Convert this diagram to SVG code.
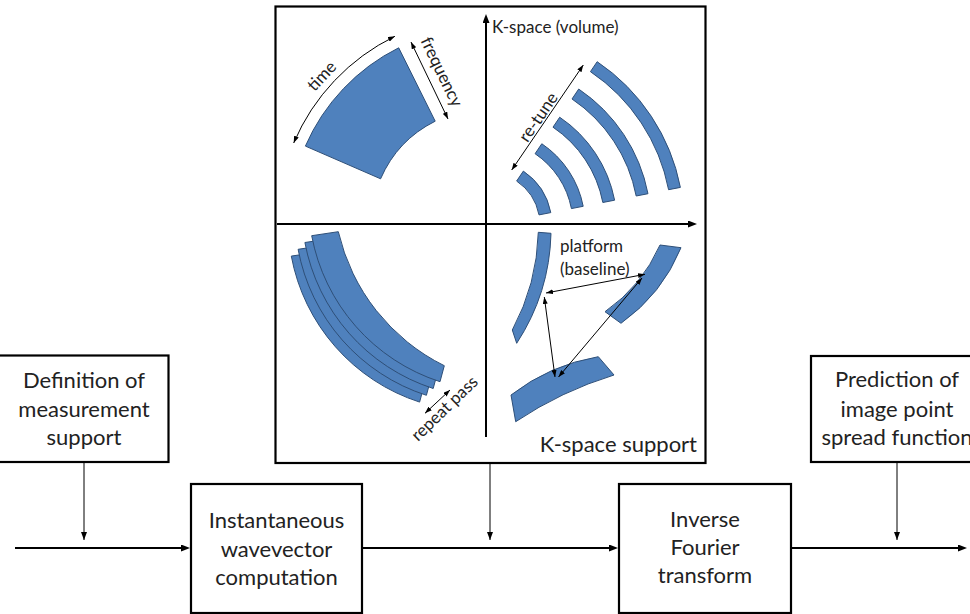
<svg xmlns="http://www.w3.org/2000/svg" width="970" height="614" viewBox="0 0 970 614">
<style>
  .box { fill: #ffffff; stroke: #000000; stroke-width: 2.2; }
  .lbl { font-family: Lato, "Open Sans", "Liberation Sans", sans-serif; font-size: 22px; fill: #222222; text-anchor: middle; }
  .sm { font-family: Lato, "Open Sans", "Liberation Sans", sans-serif; font-size: 17px; fill: #222222; }
  .blue { fill: #4f81bd; stroke: #2e4f78; stroke-width: 1; }
  .thin { fill: none; stroke: #000000; stroke-width: 1; }
  .thick { fill: none; stroke: #000000; stroke-width: 2; }
</style>
<defs>
  <marker id="ah" viewBox="0 0 8 6" refX="8" refY="3" markerWidth="8" markerHeight="6" markerUnits="userSpaceOnUse" orient="auto-start-reverse">
    <path d="M0,0 L8,3 L0,6 z" fill="#000000"/>
  </marker>
  <marker id="as" viewBox="0 0 7 5" refX="7" refY="2.5" markerWidth="7" markerHeight="5" markerUnits="userSpaceOnUse" orient="auto-start-reverse">
    <path d="M0,0 L7,2.5 L0,5 z" fill="#000000"/>
  </marker>
  <marker id="ak" viewBox="0 0 9 7" refX="6" refY="3.5" markerWidth="9" markerHeight="7" markerUnits="userSpaceOnUse" orient="auto">
    <path d="M0,0 L9,3.5 L0,7 z" fill="#000000"/>
  </marker>
</defs>

<g id="kspace-panel">
  <rect class="box" x="275.5" y="6.5" width="430" height="456.5" stroke-width="2.6"/>
  <!-- axes -->
  <line class="thick" x1="486" y1="437" x2="486" y2="17" stroke-width="1.6" marker-end="url(#ak)"/>
  <line class="thick" x1="277" y1="224" x2="694" y2="224" stroke-width="1.6" marker-end="url(#ak)"/>
  <text class="sm" x="492" y="33" font-size="16">K-space (volume)</text>
  <text class="lbl" x="697" y="452" font-size="20" style="text-anchor:end">K-space support</text>

  <!-- top-left: single sector -->
  <path class="blue" d="M305.4,146.1 A198,198 0 0 1 398.7,47.8 L435.2,121.2 A116,116 0 0 0 380.6,178.8 Z"/>
  <path class="thin" d="M293.7,143 A210,210 0 0 1 394.9,36.3" marker-start="url(#as)" marker-end="url(#as)"/>
  <text class="sm" x="326" y="80" text-anchor="middle" transform="rotate(-47 326 80)">time</text>
  <line class="thin" x1="411" y1="42" x2="448" y2="119" marker-start="url(#as)" marker-end="url(#as)"/>
  <text class="sm" x="436.5" y="74.4" text-anchor="middle" transform="rotate(64.3 436.5 74.4)">frequency</text>

  <!-- top-right: re-tune bands -->
  <path class="blue" d="M523.35,171.11 A65,65 0 0 1 550.8,212.6 L539.02,214.89 A53,53 0 0 0 516.64,181.06 Z"/>
  <path class="blue" d="M541.8,143.76 A98,98 0 0 1 583.2,206.3 L571.42,208.59 A86,86 0 0 0 535.09,153.71 Z"/>
  <path class="blue" d="M559.7,117.23 A130,130 0 0 1 614.61,200.2 L602.83,202.49 A118,118 0 0 0 552.99,127.18 Z"/>
  <path class="blue" d="M578.71,89.04 A164,164 0 0 1 647.98,193.71 L636.2,196 A152,152 0 0 0 572,98.99 Z"/>
  <path class="blue" d="M597.16,61.69 A197,197 0 0 1 680.38,187.41 L668.6,189.7 A185,185 0 0 0 590.45,71.63 Z"/>
  <line class="thin" x1="511.7" y1="170" x2="583.3" y2="65" marker-start="url(#as)" marker-end="url(#as)"/>
  <text class="sm" x="543.1" y="120.4" text-anchor="middle" transform="rotate(-55.7 543.1 120.4)">re-tune</text>

  <!-- bottom-left: repeat pass stack -->
  <path class="blue" transform="translate(-20.4 20.4)" d="M311.7,235.7 L338.3,231.7 A200,200 0 0 0 444.3,365.7 L440,381.7 A190,190 0 0 1 311.7,235.7 Z"/>
  <path class="blue" transform="translate(-13.6 13.6)" d="M311.7,235.7 L338.3,231.7 A200,200 0 0 0 444.3,365.7 L440,381.7 A190,190 0 0 1 311.7,235.7 Z"/>
  <path class="blue" transform="translate(-6.8 6.8)" d="M311.7,235.7 L338.3,231.7 A200,200 0 0 0 444.3,365.7 L440,381.7 A190,190 0 0 1 311.7,235.7 Z"/>
  <path class="blue" d="M311.7,235.7 L338.3,231.7 A200,200 0 0 0 444.3,365.7 L440,381.7 A190,190 0 0 1 311.7,235.7 Z"/>
  <line class="thin" x1="425" y1="413.3" x2="450" y2="390" marker-start="url(#as)" marker-end="url(#as)"/>
  <text class="sm" x="448.5" y="412.6" text-anchor="middle" font-size="16.5" transform="rotate(-44 448.5 412.6)">repeat pass</text>

  <!-- bottom-right: platform baselines -->
  <path class="blue" d="M538.3,232.3 L551,233.3 Q549.5,293 516.7,343.3 L512.3,330 Q537,284 538.3,232.3 Z"/>
  <path class="blue" d="M660,245 L681,247.7 Q662,294.2 621,323.3 L605,311.7 Q641.8,286 660,245 Z"/>
  <path class="blue" d="M511,395 Q549.8,364.9 598.3,356.7 L614,375 Q561.4,391.1 515.7,421.7 Z"/>
  <line class="thin" x1="546" y1="293" x2="645" y2="274.3" marker-start="url(#as)" marker-end="url(#as)"/>
  <line class="thin" x1="544.3" y1="297" x2="555" y2="377" marker-start="url(#as)" marker-end="url(#as)"/>
  <line class="thin" x1="642" y1="278" x2="558.5" y2="377" marker-start="url(#as)" marker-end="url(#as)"/>
  <text class="sm" x="560" y="252">platform</text>
  <text class="sm" x="560" y="275">(baseline)</text>
</g>

<g id="box-definition">
  <rect class="box" x="-2" y="355.5" width="170.5" height="106.5"/>
  <text class="lbl" x="84" y="388">Definition of</text>
  <text class="lbl" x="84" y="417">measurement</text>
  <text class="lbl" x="84" y="445">support</text>
</g>

<g id="box-instantaneous">
  <rect class="box" x="191" y="484" width="171" height="129"/>
  <text class="lbl" x="276.5" y="528">Instantaneous</text>
  <text class="lbl" x="276.5" y="557">wavevector</text>
  <text class="lbl" x="276.5" y="585">computation</text>
</g>

<g id="box-inverse">
  <rect class="box" x="619" y="484" width="172" height="129"/>
  <text class="lbl" x="705" y="527">Inverse</text>
  <text class="lbl" x="705" y="555">Fourier</text>
  <text class="lbl" x="705" y="583">transform</text>
</g>

<g id="box-prediction">
  <rect class="box" x="811" y="356" width="170" height="106"/>
  <text class="lbl" x="897" y="387">Prediction of</text>
  <text class="lbl" x="897" y="417">image point</text>
  <text class="lbl" x="897" y="445">spread function</text>
</g>

<g id="connectors">
  <line class="thin" x1="84" y1="463" x2="84" y2="540" marker-end="url(#ah)"/>
  <line class="thick" x1="15" y1="548" x2="187" y2="548" marker-end="url(#ak)"/>
  <line class="thick" x1="362" y1="548" x2="615" y2="548" marker-end="url(#ak)"/>
  <line class="thin" x1="490" y1="464" x2="490" y2="540" marker-end="url(#ah)"/>
  <line class="thick" x1="791" y1="548" x2="964" y2="548" marker-end="url(#ak)"/>
  <line class="thin" x1="897" y1="463" x2="897" y2="540" marker-end="url(#ah)"/>
</g>
</svg>
